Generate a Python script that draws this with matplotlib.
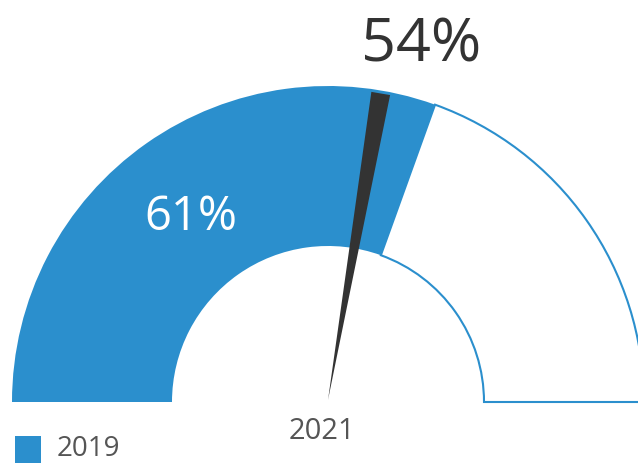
import numpy as np
import matplotlib
matplotlib.use("Agg")
import matplotlib.pyplot as plt
from matplotlib.patches import Wedge, Polygon, Rectangle

# Gauge values
series_label = "2019"
gauge_value = 61          # filled part (percent)
needle_label = "2021"
needle_value = 54         # needle (percent)

blue = "#2b8fcd"
dark = "#333333"

plt.rcParams['font.family'] = ['Open Sans', 'DejaVu Sans']

fig = plt.figure(figsize=(6.38, 4.63), dpi=100)
ax = fig.add_axes([0, 0, 1, 1])
ax.set_xlim(0, 638)
ax.set_ylim(0, 463)
ax.axis('off')

cx, cy = 328, 61
r_out, r_in = 316, 156


def pct_to_deg(p):
    return 180 - p / 100 * 180


split = pct_to_deg(gauge_value)

# filled part and the empty remainder
ax.add_patch(Wedge((cx, cy), r_out, split, 180, width=r_out - r_in,
                   facecolor=blue, edgecolor='none'))
ax.add_patch(Wedge((cx, cy), r_out, 0, split, width=r_out - r_in,
                   facecolor='white', edgecolor=blue, linewidth=1.5))

# needle: thin wedge from center to the outer ring
ang = np.deg2rad(pct_to_deg(needle_value) - 2.5)
r_tip = 313
half_w = 9.5
tip = np.array([cx + r_tip * np.cos(ang), cy + r_tip * np.sin(ang)])
perp = np.array([-np.sin(ang), np.cos(ang)]) * half_w
ax.add_patch(Polygon([(cx, cy + 2), tip + perp, tip - perp],
                     closed=True, facecolor=dark, edgecolor='none'))

# labels
ax.text(421, 401, f"{needle_value}%", fontsize=44, color=dark,
        ha='center', va='baseline')
ax.text(191, 233, f"{gauge_value}%", fontsize=34, color='white',
        ha='center', va='baseline')
ax.text(322, 24, needle_label, fontsize=21, color='#555555',
        ha='center', va='baseline')

# legend
ax.add_patch(Rectangle((15, 0), 26, 27, facecolor=blue, edgecolor='none'))
ax.text(57, 7, series_label, fontsize=20, color='#555555',
        ha='left', va='baseline')

fig.savefig("out.png", dpi=100)
